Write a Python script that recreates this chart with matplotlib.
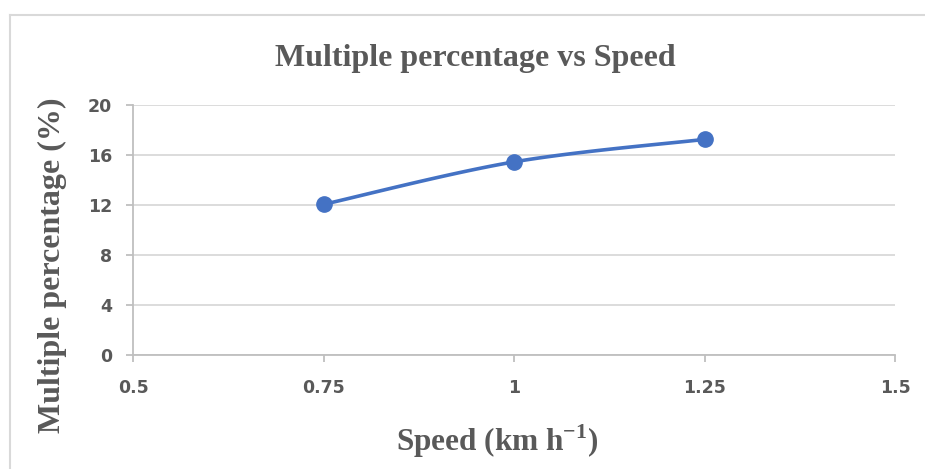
#!/usr/bin/env python3
"""Multiple percentage vs Speed (Excel-style smoothed line chart)."""

import numpy as np
import matplotlib
matplotlib.use("Agg")
import matplotlib.pyplot as plt
from matplotlib.lines import Line2D

# data
speed = [0.75, 1.0, 1.25]
multiple_pct = [12.05, 15.45, 17.25]

x_ticks = [0.5, 0.75, 1.0, 1.25, 1.5]
x_tick_labels = ['0.5', '0.75', '1', '1.25', '1.5']
y_ticks = [0, 4, 8, 12, 16, 20]

LINE_COLOR = '#4472C4'
TEXT_COLOR = '#595959'
GRID_COLOR = '#D9D9D9'
AXIS_COLOR = '#BFBFBF'

plt.rcParams['mathtext.fontset'] = 'custom'
plt.rcParams['mathtext.rm'] = 'Liberation Serif:bold'
plt.rcParams['mathtext.bf'] = 'Liberation Serif:bold'


def smooth_curve(x, y, n=60):
    """Catmull-Rom spline through the points (like Excel's smoothed line)."""
    pts = np.column_stack([x, y]).astype(float)
    padded = np.vstack([pts[0], pts, pts[-1]])
    out = []
    for i in range(1, len(padded) - 2):
        p0, p1, p2, p3 = padded[i - 1], padded[i], padded[i + 1], padded[i + 2]
        t = np.linspace(0, 1, n)[:, None]
        seg = 0.5 * ((2 * p1) + (-p0 + p2) * t +
                     (2 * p0 - 5 * p1 + 4 * p2 - p3) * t ** 2 +
                     (-p0 + 3 * p1 - 3 * p2 + p3) * t ** 3)
        out.append(seg)
    curve = np.vstack(out)
    return curve[:, 0], curve[:, 1]


fig = plt.figure(figsize=(9.25, 4.69), dpi=100)
ax = fig.add_axes([0.1438, 0.2431, 0.8238, 0.5330])

sx, sy = smooth_curve(speed, multiple_pct)
ax.plot(sx, sy, color=LINE_COLOR, linewidth=2.6, solid_capstyle='round', zorder=3)
ax.plot(speed, multiple_pct, 'o', color=LINE_COLOR, markersize=11, zorder=4)

ax.set_xlim(0.5, 1.5)
ax.set_ylim(0, 20)
ax.set_xticks(x_ticks)
ax.set_xticklabels(x_tick_labels)
ax.set_yticks(y_ticks)

ax.grid(True, axis='y', color=GRID_COLOR, linewidth=1.3)
ax.set_axisbelow(True)
for side in ['top', 'right']:
    ax.spines[side].set_visible(False)
for side in ['left', 'bottom']:
    ax.spines[side].set_color(AXIS_COLOR)
    ax.spines[side].set_linewidth(1.3)

ax.tick_params(axis='both', direction='out', length=5, width=1.3, color=AXIS_COLOR,
               labelcolor=TEXT_COLOR, labelsize=12.5)
ax.tick_params(axis='x', pad=12)
ax.tick_params(axis='y', pad=10)
for lbl in ax.get_xticklabels() + ax.get_yticklabels():
    lbl.set_fontweight('bold')

fig.text(0.514, 0.876, 'Multiple percentage vs Speed', ha='center', va='center',
         family='Liberation Serif', fontweight='bold', fontsize=23, color=TEXT_COLOR)
fig.text(0.537, 0.060, r'Speed (km h$^{\mathregular{-1}}$)', ha='center', va='center',
         family='Liberation Serif', fontweight='bold', fontsize=22.5, color=TEXT_COLOR)
fig.text(0.057, 0.435, 'Multiple percentage (%)', ha='center', va='center', rotation=90,
         family='Liberation Serif', fontweight='bold', fontsize=23, color=TEXT_COLOR)

# chart area border (only left and top visible in the crop)
fig.add_artist(Line2D([9.5 / 925, 9.5 / 925], [0, 1 - 15.5 / 469],
                      transform=fig.transFigure, color=GRID_COLOR, linewidth=1.5))
fig.add_artist(Line2D([9.5 / 925, 1], [1 - 15.5 / 469, 1 - 15.5 / 469],
                      transform=fig.transFigure, color=GRID_COLOR, linewidth=1.5))

fig.savefig('out.png', dpi=100)
